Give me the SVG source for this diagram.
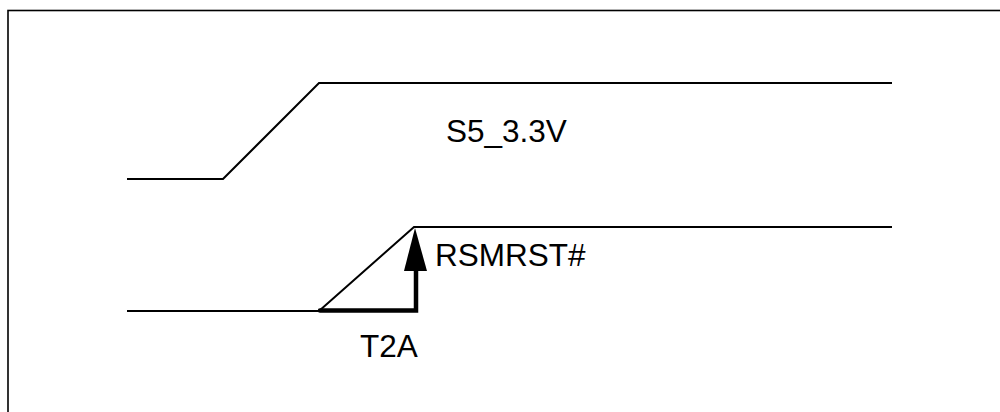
<svg xmlns="http://www.w3.org/2000/svg" width="1000" height="412" viewBox="0 0 1000 412">
<style>
.frame{fill:none;stroke:#000;stroke-width:1.6}
.wave{fill:none;stroke:#000;stroke-width:2;stroke-linejoin:miter}
.thick{fill:none;stroke:#000;stroke-width:4.5;stroke-linecap:round;stroke-linejoin:miter}
.lbl{font-family:"Liberation Sans",Arial,sans-serif;font-size:31.5px;fill:#000}
</style>
<rect width="1000" height="412" fill="#fff"/>
<rect class="frame" x="8" y="10.5" width="1000" height="410"/>
<g id="s5_wave">
<polyline class="wave" points="127,179 223,179 319,83 892,83"/>
<text class="lbl" x="446" y="142">S5_3.3V</text>
</g>
<g id="rsmrst_wave">
<polyline class="wave" points="127,311 319,311 414,227 892,227"/>
<text class="lbl" x="435" y="266">RSMRST#</text>
</g>
<g id="connectors">
<polyline class="thick" points="320,310.5 416,310.5 416,270"/>
<polygon points="415,228 404,271 427,271" fill="#000"/>
<text class="lbl" x="360" y="357">T2A</text>
</g>
</svg>
